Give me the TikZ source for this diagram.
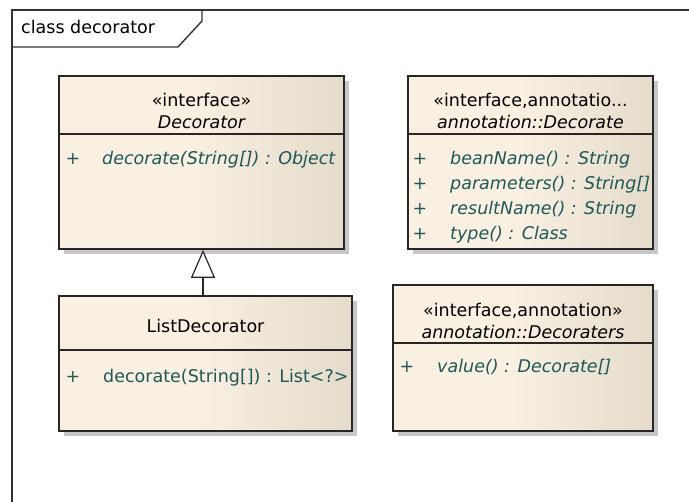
\documentclass[tikz,border=0pt]{standalone}
\usepackage{fontspec}
\setmainfont{DejaVu Sans}
\usetikzlibrary{arrows.meta, positioning, shadows}

\definecolor{classfill}{RGB}{250,240,226}
\definecolor{classshade}{RGB}{228,219,202}
\definecolor{opcolor}{RGB}{30,88,88}

% light on the left half, darker towards the right edge
\pgfdeclarehorizontalshading{classgrad}{100bp}{color(0bp)=(classfill); color(25bp)=(classfill);
    color(48bp)=(classfill); color(75bp)=(classshade); color(100bp)=(classshade)}

\begin{document}
\begin{tikzpicture}[
    x=1pt, y=-1pt,
    every node/.style={font=\fontsize{17.5}{20}\selectfont, inner sep=0pt, text height=12pt, text depth=0pt},
    classbox/.style={draw=black!85, line width=1.6pt, shading=classgrad,
        drop shadow={shadow xshift=5pt, shadow yshift=-5pt, fill=black!22, opacity=1},
        anchor=center, text height=, text depth=},
    divider/.style={draw=black!85, line width=1.4pt},
    cname/.style={anchor=center, font=\fontsize{17.5}{20}\selectfont\itshape},
    vis/.style={anchor=center, text=opcolor},
    op/.style={anchor=west, text=opcolor, font=\fontsize{17.5}{20}\selectfont\itshape},
    opplain/.style={anchor=west, text=opcolor},
    ]

    \useasboundingbox (0,0) rectangle (689,502);

    % Frame with its name tab
    \draw[black!80, line width=1.6pt] (12,502) -- (12,10) -- (689,10);
    \draw[black!80, line width=1.4pt] (12,47) -- (178,47) -- (202,21) -- (202,10);
    \node[anchor=west] (frametitle) at (21,28) {class decorator};

    % Decorator interface
    \node[classbox, minimum width=285pt, minimum height=173pt] (iface) at (201.5,162.5) {};
    \draw[divider] (iface.west |- 0,134) -- (iface.east |- 0,134);
    \node (ifacestereo) at (201.5,101) {«interface»};
    \node[cname] (ifacename) at (201.5,123) {Decorator};
    \node[vis] (ifacevis) at (73,159) {+};
    \node[op] (ifaceop) at (102,159) {decorate(String[]) : Object};

    % ListDecorator class
    \node[classbox, minimum width=293pt, minimum height=135pt] (list) at (205.5,363.5) {};
    \draw[divider] (list.west |- 0,350) -- (list.east |- 0,350);
    \node (listname) at (205.5,327) {ListDecorator};
    \node[vis] (listvis) at (73,377) {+};
    \node[opplain] (listop) at (103,377) {decorate(String[]) : List<?>};

    % Decorate annotation
    \node[classbox, minimum width=245pt, minimum height=173pt] (decorate) at (530.5,162.5) {};
    \draw[divider] (decorate.west |- 0,134) -- (decorate.east |- 0,134);
    \node (decoratestereo) at (530.5,101) {«interface,annotatio...};
    \node[cname] (decoratename) at (530.5,123) {annotation::Decorate};
    \foreach \y/\txt [count=\i] in {159/beanName() : String, 184/parameters() : String[],
                                   209/resultName() : String, 234/type() : Class} {
        \node[vis] (decoratevis\i) at (420,\y) {+};
        \node[op] (decorateop\i) at (450,\y) {\txt};
    }

    % Decoraters annotation
    \node[classbox, minimum width=260pt, minimum height=146pt] (decoraters) at (523,358) {};
    \draw[divider] (decoraters.west |- 0,343) -- (decoraters.east |- 0,343);
    \node (decoratersstereo) at (523,311) {«interface,annotation»};
    \node[cname] (decoratersname) at (523,333) {annotation::Decoraters};
    \node[vis] (decoratersvis) at (407,367) {+};
    \node[op] (decoratersop) at (437,367) {value() : Decorate[]};

    % Realization
    \coordinate (genx) at (203,0);
    \draw[black!85, line width=1.2pt, -{Triangle[open, fill=white, length=28pt, width=24pt]}]
        (list.north -| genx) -- (iface.south -| genx);

\end{tikzpicture}
\end{document}
